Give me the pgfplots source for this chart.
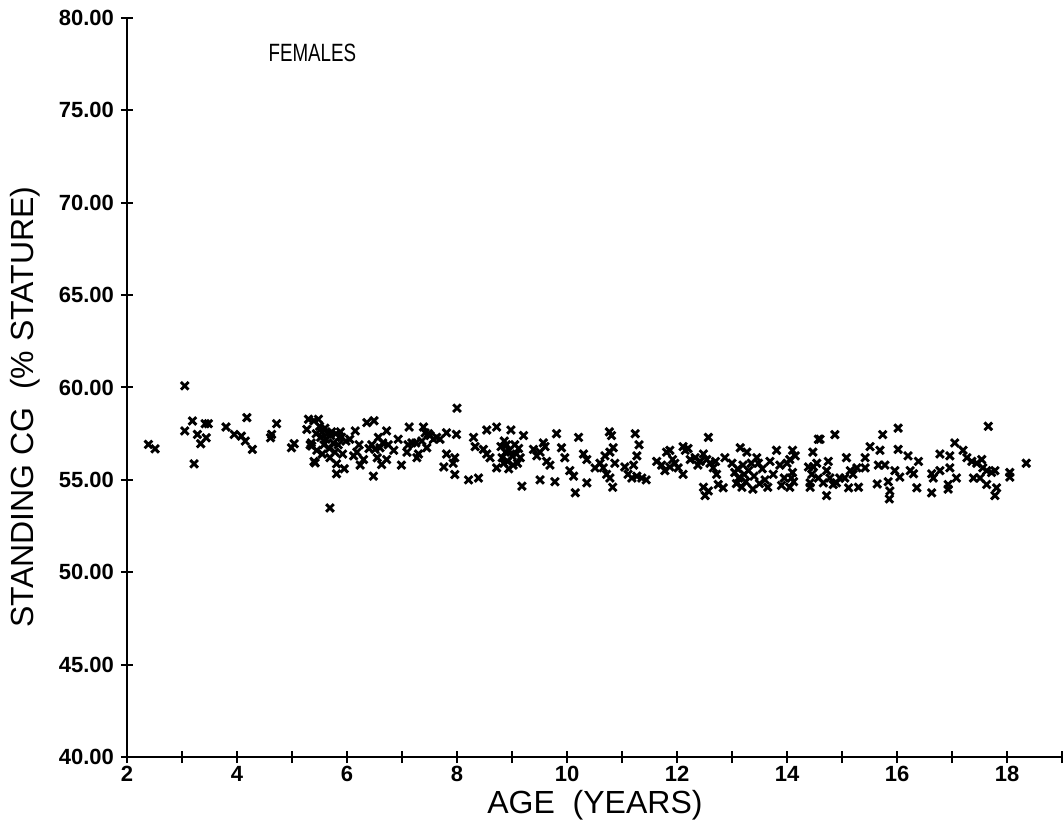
\documentclass[border=0pt]{standalone}
\usepackage{pgfplots}
\pgfplotsset{compat=1.18}
\usepackage{graphicx}
\usepackage{fontspec}
\setmainfont{Liberation Sans}
\usetikzlibrary{calc}
\pgfplotstableread{
x y
2.39 56.92
2.51 56.68
3.05 60.09
3.05 57.65
3.19 58.19
3.22 55.87
3.28 57.46
3.34 56.96
3.44 57.28
3.42 58.04
3.48 58.04
3.80 57.86
3.95 57.46
4.08 57.37
4.18 58.37
4.15 57.10
4.28 56.65
4.61 57.28
4.63 57.46
4.72 58.04
4.99 56.74
5.04 56.96
5.30 58.28
5.27 57.73
5.35 57.0
5.36 56.83
5.40 58.2
5.42 55.92
5.44 57.5
5.48 58.28
5.50 57.9
5.52 57.3
5.55 57.6
5.58 56.9
5.60 57.8
5.62 57.2
5.65 57.5
5.68 56.7
5.69 56.2
5.70 57.4
5.72 57.6
5.75 57.0
5.78 56.5
5.80 57.5
5.81 55.87
5.81 55.33
5.84 56.9
5.86 57.3
5.88 57.6
5.90 57.3
5.92 56.4
5.40 56.0
5.45 56.6
5.33 56.9
5.69 53.48
5.55 56.4
5.95 55.6
5.98 57.1
6.12 56.3
6.15 57.65
6.22 56.9
6.24 55.8
6.30 56.1
6.36 58.1
6.49 58.2
6.48 55.2
6.51 56.65
6.57 57.3
6.60 56.74
6.63 55.83
6.72 56.1
6.72 57.65
6.75 56.9
6.93 57.2
6.99 55.8
6.05 57.2
6.18 56.5
6.40 56.7
6.55 56.2
6.45 56.9
6.65 57.0
6.85 56.6
7.09 56.5
7.11 56.9
7.13 57.86
7.18 57.0
7.27 56.2
7.30 56.4
7.36 57.1
7.39 57.86
7.42 57.55
7.45 56.74
7.51 57.4
7.57 57.2
7.63 57.3
7.69 57.2
7.76 55.7
7.81 57.55
7.81 56.4
7.93 55.9
7.96 56.2
7.96 55.29
7.99 57.46
8.00 58.88
7.25 57.0
7.48 57.5
8.21 55.0
8.30 57.3
8.33 56.8
8.39 55.1
8.48 56.65
8.54 56.4
8.54 57.7
8.60 56.2
8.72 57.86
8.72 55.65
8.80 56.8
8.82 56.2
8.85 55.9
8.88 56.5
8.90 56.9
8.92 56.0
8.95 56.6
8.98 57.7
9.00 56.3
9.02 55.8
9.05 56.9
9.08 56.4
9.10 55.9
9.12 56.7
9.15 56.2
8.86 57.1
8.94 55.6
9.18 54.66
9.21 57.4
9.39 56.65
9.51 56.5
9.51 55.0
9.57 57.0
9.63 56.0
9.69 55.8
9.78 54.9
9.81 57.5
9.90 56.74
9.96 56.2
10.05 55.5
10.12 55.2
10.15 54.3
10.21 57.3
10.30 56.4
10.36 56.1
10.36 54.84
9.45 56.3
9.60 56.8
10.51 55.65
10.69 56.3
10.77 57.6
10.81 57.4
10.78 56.5
10.84 56.74
10.66 55.65
10.72 55.3
10.78 55.1
10.83 54.6
10.87 55.9
11.24 57.5
11.31 56.9
11.27 56.3
11.21 55.8
11.11 55.3
11.18 55.1
11.27 55.2
11.36 55.1
11.44 55.0
10.60 55.9
11.05 55.7
11.63 56.0
11.72 55.8
11.81 56.5
11.87 56.6
11.78 55.5
11.87 55.7
11.96 55.9
12.02 55.65
12.11 56.8
12.15 56.6
12.11 55.3
12.24 56.1
12.33 56.2
12.42 56.0
12.48 56.4
12.54 56.1
12.60 55.9
12.57 57.3
12.48 54.6
12.51 54.15
12.57 54.4
12.66 55.65
12.72 55.3
12.75 54.75
12.84 54.57
12.87 56.2
11.92 56.1
12.20 56.7
12.38 55.8
12.70 56.0
13.00 55.9
13.05 55.4
13.08 54.8
13.10 55.6
13.12 55.1
13.15 56.74
13.18 54.6
13.20 55.8
13.22 55.3
13.25 54.9
13.27 56.5
13.30 55.5
13.35 55.9
13.40 55.2
13.45 56.2
13.50 54.8
13.55 55.6
13.60 55.0
13.65 54.6
13.69 56.0
13.75 55.3
13.81 56.6
13.87 55.8
13.90 54.7
13.95 55.1
14.00 55.9
14.05 54.6
14.10 55.4
14.15 56.3
13.38 54.5
13.48 55.9
14.05 56.1
14.10 56.6
14.08 55.1
14.12 54.9
14.45 55.3
14.48 55.7
14.57 57.2
14.42 54.6
14.60 57.2
14.87 57.45
14.47 56.5
14.39 55.7
14.54 55.9
14.42 54.84
14.57 55.1
14.75 56.0
14.72 55.5
14.66 54.84
14.78 55.1
14.72 54.15
14.84 54.75
14.96 55.1
14.90 54.84
15.08 56.2
15.15 55.5
15.05 55.1
15.20 55.3
15.27 55.65
15.12 54.57
15.30 54.6
15.42 56.2
15.51 56.8
15.42 55.65
15.74 57.45
15.69 56.6
15.66 55.8
15.78 55.8
15.64 54.78
15.84 54.9
15.87 54.4
15.86 53.97
15.96 55.5
16.05 55.15
16.02 57.8
16.02 56.65
16.20 56.3
16.39 56.0
16.24 55.5
16.30 55.33
16.36 54.57
16.63 55.33
16.66 55.1
16.63 54.3
16.78 55.5
16.78 56.4
16.96 55.65
16.93 54.75
16.93 54.5
17.08 55.1
16.96 56.3
17.05 57.0
17.20 56.6
17.27 56.2
17.36 56.0
17.45 55.9
17.54 56.1
17.56 55.65
17.63 55.5
17.72 55.4
17.78 55.5
17.39 55.1
17.51 55.1
17.63 54.75
17.81 54.57
17.78 54.15
17.66 57.9
18.05 55.15
18.05 55.4
18.35 55.9
}\datatable
\begin{document}
\begin{tikzpicture}
\begin{axis}[
  name=ax,
  scale only axis,
  width=467.5pt, height=369.5pt,
  xmin=2, xmax=19, ymin=40, ymax=80,
  axis lines=left,
  axis line style={-, line width=1.1pt},
  every tick/.style={black, line width=1pt},
  tick align=center,
  major tick length=6pt, minor tick length=6pt,
  xtick={2,4,...,18},
  minor xtick={3,5,...,19},
  ytick={40,45,...,80},
  yticklabel style={/pgf/number format/fixed, /pgf/number format/fixed zerofill, /pgf/number format/precision=2},
  /pgf/number format/assume math mode=true,
  tick label style={font=\fontsize{11}{13}\selectfont\bfseries},
  xticklabel style={yshift=2pt},
  xlabel={AGE\ \ (YEARS)},
  ylabel={STANDING CG\ \ (\% STATURE)},
  label style={font=\fontsize{16}{18}\selectfont},
  xlabel style={at={(axis description cs:0.5005,-0.065)}, anchor=center},
  ylabel style={at={(axis description cs:-0.109,0.4736)}, anchor=center},
  clip=false,
]
\addplot[only marks, mark=x, mark size=2.7pt, line width=1.45pt, black] table[x=x,y=y] {\datatable};
\node[anchor=center, font=\fontsize{12.5}{14}\selectfont] at (axis cs:5.37,78.1) {\scalebox{0.75}[1]{FEMALES}};
\end{axis}
\pgfresetboundingbox
\path[use as bounding box] ($(ax.south west)+(-63.5pt,-33pt)$) rectangle ($(ax.north east)+(0.5pt,9pt)$);
\end{tikzpicture}
\end{document}
